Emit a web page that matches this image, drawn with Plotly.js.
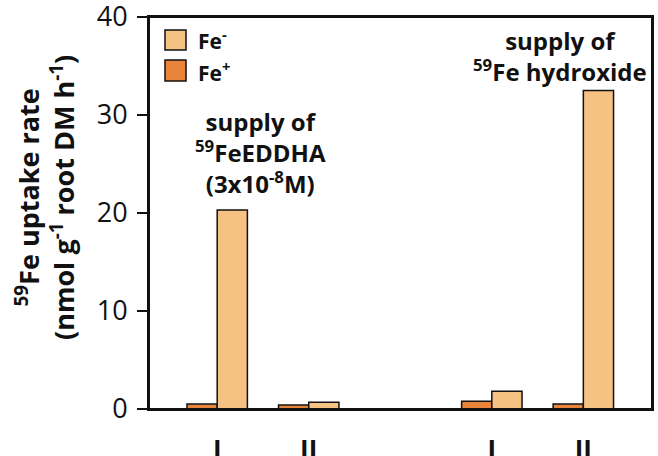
<!DOCTYPE html>
<html>
<head>
<meta charset="utf-8">
<script src="https://cdn.plot.ly/plotly-3.0.1.min.js"></script>
<style>html,body{margin:0;padding:0;background:#fff;overflow:hidden;}#chart{width:658px;height:456px;}</style>
</head>
<body>
<div id="chart"></div>
<script>
// Data
const categoryKeys = ['EDDHA-I', 'EDDHA-II', 'OH-I', 'OH-II'];
const tickLabels = ['I', 'II', 'I', 'II'];
const gapKey = ' ';
const feMinusValues = [20.3, 0.7, 1.8, 32.5];
const fePlusValues = [0.5, 0.4, 0.8, 0.5];
const seriesNames = ['Fe<sup>-</sup>', 'Fe<sup>+</sup>'];
const yTicks = [0, 10, 20, 30, 40];

const colMinus = '#F6C283';
const colPlus = '#E8853A';
const FONT = 'Open Sans, Noto Sans, sans-serif';

const axisOrder = [categoryKeys[0], categoryKeys[1], gapKey, categoryKeys[2], categoryKeys[3]];

const traces = [
  {type: 'bar', name: seriesNames[1], x: categoryKeys, y: fePlusValues,
   marker: {color: colPlus, line: {color: '#111', width: 1.5}}, showlegend: false, hoverinfo: 'skip'},
  {type: 'bar', name: seriesNames[0], x: categoryKeys, y: feMinusValues,
   marker: {color: colMinus, line: {color: '#111', width: 1.5}}, showlegend: false, hoverinfo: 'skip'}
];

function px2x(px) { return (px - 149) / 503; }
function py2y(py) { return (409 - py) / 392; }

const layout = {
  width: 658, height: 456,
  margin: {l: 149, r: 6, t: 17, b: 47},
  paper_bgcolor: '#fff', plot_bgcolor: '#fff',
  barmode: 'group', bargap: 0.34, bargroupgap: 0,
  font: {family: FONT, color: '#111'},
  xaxis: {
    type: 'category', categoryorder: 'array', categoryarray: axisOrder,
    range: [-0.745, 4.75],
    tickmode: 'array', tickvals: categoryKeys, ticktext: tickLabels,
    ticks: '', ticklabelstandoff: 17, ticklabeloverflow: 'allow',
    tickfont: {family: FONT, size: 26, color: '#111', weight: 'bold'},
    showline: true, linecolor: '#111', linewidth: 2, mirror: true,
    showgrid: false, zeroline: false, fixedrange: true
  },
  yaxis: {
    range: [0, 40], tickmode: 'array', tickvals: yTicks,
    ticks: 'outside', ticklen: 10, tickwidth: 1.5, tickcolor: '#111',
    ticklabelstandoff: 4, ticklabeloverflow: 'allow',
    tickfont: {family: FONT, size: 27, color: '#111'},
    showline: true, linecolor: '#111', linewidth: 2, mirror: true,
    showgrid: false, zeroline: false, fixedrange: true
  },
  shapes: [
    {type: 'rect', xref: 'paper', yref: 'paper', x0: 0, x1: 1, y0: 0, y1: 1,
     line: {color: '#111', width: 2}, fillcolor: 'rgba(0,0,0,0)', layer: 'above'},
    {type: 'rect', xref: 'paper', yref: 'paper', x0: px2x(165), x1: px2x(186), y0: py2y(50), y1: py2y(30),
     fillcolor: colMinus, line: {color: '#111', width: 1.5}},
    {type: 'rect', xref: 'paper', yref: 'paper', x0: px2x(165), x1: px2x(186), y0: py2y(81), y1: py2y(60),
     fillcolor: colPlus, line: {color: '#111', width: 1.5}}
  ],
  annotations: [
    {xref: 'paper', yref: 'paper', x: px2x(196), y: py2y(40), xanchor: 'left', yanchor: 'middle',
     text: seriesNames[0], showarrow: false, font: {family: FONT, size: 21, weight: 'bold', color: '#111'}},
    {xref: 'paper', yref: 'paper', x: px2x(196), y: py2y(71), xanchor: 'left', yanchor: 'middle',
     text: seriesNames[1], showarrow: false, font: {family: FONT, size: 21, weight: 'bold', color: '#111'}},
    {xref: 'paper', yref: 'paper', x: px2x(260), y: py2y(152), xanchor: 'center', yanchor: 'middle',
     text: 'supply of<br><sup>59</sup>FeEDDHA<br>(3x10<sup>-8</sup>M)', align: 'center', showarrow: false,
     font: {family: FONT, size: 24, weight: 'bold', color: '#111'}},
    {xref: 'paper', yref: 'paper', x: px2x(560), y: py2y(56), xanchor: 'center', yanchor: 'middle',
     text: 'supply of<br><sup>59</sup>Fe hydroxide', align: 'center', showarrow: false,
     font: {family: FONT, size: 24, weight: 'bold', color: '#111'}},
    {xref: 'paper', yref: 'paper', x: px2x(45), y: py2y(198), xanchor: 'center', yanchor: 'middle',
     textangle: -90, align: 'center',
     text: '<sup>59</sup>Fe uptake rate<br>(nmol g<sup>-1</sup> root DM h<sup>-1</sup>)', showarrow: false,
     font: {family: FONT, size: 27, weight: 'bold', color: '#111'}}
  ]
};

Plotly.newPlot('chart', traces, layout, {displayModeBar: false, staticPlot: true});
</script>
</body>
</html>
